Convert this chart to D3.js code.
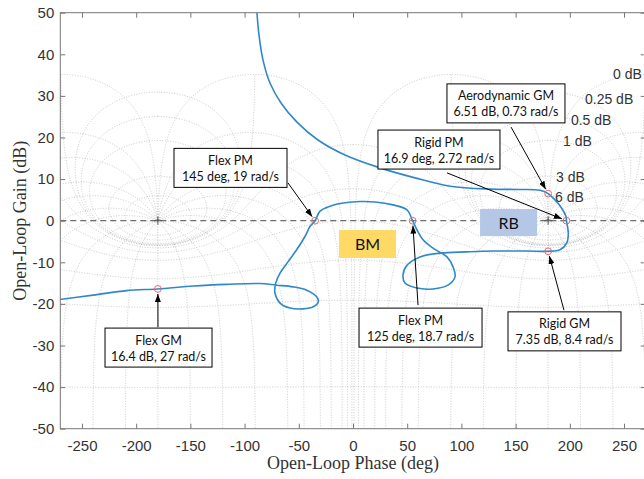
<!DOCTYPE html>
<html>
<head>
<meta charset="utf-8">
<script src="https://cdn.jsdelivr.net/npm/d3@7"></script>
<style>
  body { margin: 0; background: #fff; }
  svg { display: block; }
</style>
</head>
<body>
<svg id="chart" width="644" height="479"></svg>
<script>
// ---- Open-loop locus (phase in deg, gain in dB), ordered along the curve ----
const locusPhase = [-88.6, -86.7, -83.0, -76.6, -66.4, -51.7, -32.3, -7.4, 24.9, 57.2, 89.5, 126.4, 154.1, 172.5,
  180, 186.3, 192.5, 196.5, 196.9, 198.6, 197.1, 191, 180,
  160.5, 129.2, 105.2, 80.3, 61.8, 49.8, 46.1, 48, 59, 73.8, 87.6, 94.1, 92.3, 86.7, 73.8, 64.6, 59, 55,
  49.8, 36.9, 20.3, 6.5, -7.4, -21.2, -30.4, -35,
  -39.7, -44.3, -52, -60, -67.3, -71.3, -72, -67.3, -58.1, -46.1, -36.6, -32, -33.5, -42.7, -55.4, -70.4,
  -85.8, -116.5, -147.3, -180, -208.8, -239.6, -272];
const locusGain = [50, 44.6, 38.6, 33.1, 28.3, 23.7, 19.4, 15.8, 12.7, 10.3, 8.3, 7.6, 7.5, 7.3,
  6.51, 5.0, 3.0, 1.0, 0, -3.0, -5.4, -7.0, -7.35,
  -7.3, -7.3, -7.5, -7.8, -8.7, -10.7, -13.1, -15, -16.2, -16.4, -15.5, -13.5, -11.1, -8.7, -6.6, -4.6, -2.2, 0,
  2.6, 3.8, 4.5, 4.6, 4.3, 3.5, 2.3, 0,
  -1.4, -3.8, -7, -9.9, -12.6, -15, -17.4, -19.8, -21, -21.2, -20.7, -19.5, -18.3, -16.7, -15.9, -15.5,
  -15.1, -15.3, -15.7, -16.4, -16.8, -17.9, -19.0];

// ---- Stability margin points ----
const marginPhase = [180, 196.9, 180, 55, -35, -180];
const marginGain = [6.51, 0, -7.35, 0, 0, -16.4];
const marginTitles = ["Aerodynamic GM", "Rigid PM", "Rigid GM", "Flex PM", "Flex PM", "Flex GM"];
const marginValues = ["6.51 dB, 0.73 rad/s", "16.9 deg, 2.72 rad/s", "7.35 dB, 8.4 rad/s",
  "125 deg, 18.7 rad/s", "145 deg, 19 rad/s", "16.4 dB, 27 rad/s"];

// ---- Region tags ----
const regionNames = ["BM", "RB"];

// ---- Axis ticks ----
const phaseTicks = [-250, -200, -150, -100, -50, 0, 50, 100, 150, 200, 250];
const gainTicks = [-50, -40, -30, -20, -10, 0, 10, 20, 30, 40, 50];

// ---- Nichols grid levels ----
const gridMagLevels = [6, 3, 1, 0.5, 0.25, 0, -1, -3, -6, -12, -20, -40];
const gridPhaseLevels = [-1, -5, -10, -20, -30, -45, -60, -90, -120, -150, -180,
  -210, -240, -270, -300, -315, -330, -340, -350, -355, -359];
const gridLabelText = ["0 dB", "0.25 dB", "0.5 dB", "1 dB", "3 dB", "6 dB"];
const gridLabelPhase = [239.9, 214, 201, 193.7, 187.3, 186.3];
const gridLabelGain = [35.3, 29.3, 24.2, 19.2, 10.5, 5.7];

// ------------------------------------------------------------------
const svg = d3.select("#chart");
const L = 60.3, R = 645.7, T = 12.7, B = 428.7;
const x = d3.scaleLinear().domain([-270, 270]).range([L, R]);
const y = d3.scaleLinear().domain([-50, 50]).range([B, T]);

const defs = svg.append("defs");
defs.append("clipPath").attr("id", "plotClip")
  .append("rect").attr("x", L).attr("y", T).attr("width", R - L).attr("height", B - T);
defs.append("marker").attr("id", "arrowHead")
  .attr("viewBox", "0 0 8 6").attr("refX", 8).attr("refY", 3)
  .attr("markerWidth", 8).attr("markerHeight", 6)
  .attr("markerUnits", "userSpaceOnUse").attr("orient", "auto")
  .append("path").attr("d", "M0,0 L8,3 L0,6 Z").attr("fill", "#000");

// Closed-loop T = a + jb  ->  open-loop L = T/(1-T) as [phase deg in (-360,0], gain dB]
function openLoop(a, b) {
  const den = (1 - a) * (1 - a) + b * b;
  const lr = (a * (1 - a) - b * b) / den, li = b / den;
  let ph = Math.atan2(li, lr) * 180 / Math.PI;
  if (ph > 0) ph -= 360;
  return [ph, 10 * Math.log10(lr * lr + li * li)];
}

const gridTop = 35.2;
const contours = [];
// constant closed-loop phase lines
gridPhaseLevels.forEach(phi => {
  const r = phi * Math.PI / 180, pts = [];
  for (let i = 0; i <= 2400; i++) {
    const u = -1 + 2 * i / 2400;
    const t = Math.pow(10, 4 * u * u * u);
    const p = openLoop(t * Math.cos(r), t * Math.sin(r));
    if (p[1] > -80) pts.push(p);
  }
  contours.push(pts);
});
// constant closed-loop magnitude lines
gridMagLevels.forEach(mdb => {
  const m = Math.pow(10, mdb / 20), pts = [];
  const N = 1440;
  for (let i = 0; i <= N; i++) {
    const th = 2 * Math.PI * i / N;
    if (mdb === 0 && (i === 0 || i === N)) continue;
    const p = openLoop(m * Math.cos(th), m * Math.sin(th));
    pts.push(p[1] <= gridTop ? p : null);
  }
  if (mdb < 0) {
    const clean = pts.filter(p => p);
    clean.sort((a, b) => a[0] - b[0]);
    const g0 = clean[clean.length - 1][1];
    clean.unshift([-360, g0]);
    clean.push([0, g0]);
    contours.push(clean);
  } else {
    contours.push(pts);
  }
});

const gridLine = d3.line()
  .defined(d => d !== null)
  .x(d => x(d[0])).y(d => y(d[1]));

const plot = svg.append("g").attr("clip-path", "url(#plotClip)");
const gridG = plot.append("g");
[0, 360].forEach(off => {
  contours.forEach(c => {
    gridG.append("path")
      .attr("d", gridLine(c.map(p => p ? [p[0] + off, p[1]] : null)))
      .attr("fill", "none")
      .attr("stroke", "#bdbdbd")
      .attr("stroke-width", 0.8)
      .attr("stroke-dasharray", "1,1.6");
  });
});

// zero-gain reference line
plot.append("line")
  .attr("x1", L).attr("x2", R).attr("y1", y(0)).attr("y2", y(0))
  .attr("stroke", "#6e6e6e").attr("stroke-width", 1.2).attr("stroke-dasharray", "6,4");

// critical points
[-180, 180].forEach(ph => {
  plot.append("path")
    .attr("d", `M${x(ph) - 4},${y(0)}H${x(ph) + 4}M${x(ph)},${y(0) - 4}V${y(0) + 4}`)
    .attr("stroke", "#555").attr("stroke-width", 1);
});

// region tags
const regionBoxes = [
  { cx: 13.4, cy: -5.6, w: 57, h: 28, fill: "#ffd966" },
  { cx: 143.5, cy: -0.45, w: 57, h: 27, fill: "#b4c7e7" }
];
regionNames.forEach((name, i) => {
  const b = regionBoxes[i];
  const g = svg.append("g");
  g.append("rect")
    .attr("x", x(b.cx) - b.w / 2).attr("y", y(b.cy) - b.h / 2)
    .attr("width", b.w).attr("height", b.h).attr("fill", b.fill);
  g.append("text")
    .attr("x", x(b.cx)).attr("y", y(b.cy) + 6)
    .attr("text-anchor", "middle")
    .attr("font-family", "Lato, 'Open Sans', sans-serif").attr("font-size", 16)
    .attr("fill", "#111").text(name);
});

// open-loop locus
const locus = locusPhase.map((p, i) => [p, locusGain[i]]);
plot.append("path")
  .attr("d", d3.line().x(d => x(d[0])).y(d => y(d[1])).curve(d3.curveCatmullRom.alpha(0.5))(locus))
  .attr("fill", "none").attr("stroke", "#2f88c8").attr("stroke-width", 1.6);

// margin markers
marginPhase.forEach((p, i) => {
  plot.append("circle")
    .attr("cx", x(p)).attr("cy", y(marginGain[i])).attr("r", 3.4)
    .attr("fill", "none").attr("stroke", "#e86a6a").attr("stroke-width", 1);
});

// grid labels
gridLabelText.forEach((t, i) => {
  svg.append("text")
    .attr("x", x(gridLabelPhase[i])).attr("y", y(gridLabelGain[i]))
    .attr("dy", "0.35em")
    .attr("font-family", "'Liberation Sans', Arial, sans-serif").attr("font-size", 14)
    .attr("fill", "#333").text(t);
});

// annotation boxes with arrows
const noteLayout = [
  { cx: 141.1, cy: 28.2, w: 118, from: [145.8, 22.5] },
  { cx: 79.3, cy: 17.1, w: 122, from: [86.7, 11.5] },
  { cx: 195.1, cy: -26.6, w: 113, from: [194.6, -21.5] },
  { cx: 62.3, cy: -25.7, w: 123, from: [60, -20.3] },
  { cx: -113, cy: 12.7, w: 113, from: [-60, 9.1] },
  { cx: -179.4, cy: -30.5, w: 107, from: [-179.9, -25.6] }
];
marginTitles.forEach((title, i) => {
  const n = noteLayout[i];
  const sx = x(n.from[0]), sy = y(n.from[1]);
  const mx = x(marginPhase[i]), my = y(marginGain[i]);
  const len = Math.hypot(mx - sx, my - sy);
  const tx = mx - (mx - sx) / len * 5, ty = my - (my - sy) / len * 5;
  svg.append("line")
    .attr("x1", sx).attr("y1", sy).attr("x2", tx).attr("y2", ty)
    .attr("stroke", "#000").attr("stroke-width", 1)
    .attr("marker-end", "url(#arrowHead)");
  const h = 39, bx = x(n.cx), by = y(n.cy);
  svg.append("rect")
    .attr("x", bx - n.w / 2).attr("y", by - h / 2).attr("width", n.w).attr("height", h)
    .attr("fill", "#fff").attr("stroke", "#000").attr("stroke-width", 1);
  const txt = svg.append("text")
    .attr("text-anchor", "middle")
    .attr("font-family", "Lato, 'Open Sans', sans-serif").attr("font-size", 12.5)
    .attr("fill", "#111");
  txt.append("tspan").attr("x", bx).attr("y", by - 3).text(title);
  txt.append("tspan").attr("x", bx).attr("y", by + 13).text(marginValues[i]);
});

// axes
const tickFont = "'Liberation Sans', Arial, sans-serif";
function styleAxis(g) {
  g.select(".domain").remove();
  g.selectAll(".tick line").attr("stroke", "#777");
  g.selectAll(".tick text").attr("fill", "#333")
    .attr("font-family", tickFont).attr("font-size", 15);
}
const fmt = d => String(d);
svg.append("g").attr("transform", `translate(0,${B})`)
  .call(d3.axisBottom(x).tickValues(phaseTicks).tickFormat(fmt).tickSize(-5).tickPadding(12))
  .call(styleAxis);
svg.append("g").attr("transform", `translate(0,${T})`)
  .call(d3.axisTop(x).tickValues(phaseTicks).tickFormat("").tickSize(-5))
  .call(styleAxis);
svg.append("g").attr("transform", `translate(${L},0)`)
  .call(d3.axisLeft(y).tickValues(gainTicks).tickFormat(fmt).tickSize(-5).tickPadding(6))
  .call(styleAxis);
svg.append("g").attr("transform", `translate(${R},0)`)
  .call(d3.axisRight(y).tickValues(gainTicks).tickFormat("").tickSize(-5))
  .call(styleAxis);
svg.append("rect")
  .attr("x", L).attr("y", T).attr("width", R - L).attr("height", B - T)
  .attr("fill", "none").attr("stroke", "#777").attr("stroke-width", 1);

// axis titles
svg.append("text")
  .attr("x", x(0)).attr("y", 469)
  .attr("text-anchor", "middle")
  .attr("font-family", "'Liberation Serif', 'Times New Roman', serif").attr("font-size", 18)
  .style("fill", "#333").text("Open-Loop Phase (deg)");
svg.append("text")
  .attr("transform", `translate(26,${y(0)}) rotate(-90)`)
  .attr("text-anchor", "middle")
  .attr("font-family", "'Liberation Serif', 'Times New Roman', serif").attr("font-size", 18)
  .style("fill", "#333").text("Open-Loop Gain (dB)");
</script>
</body>
</html>
